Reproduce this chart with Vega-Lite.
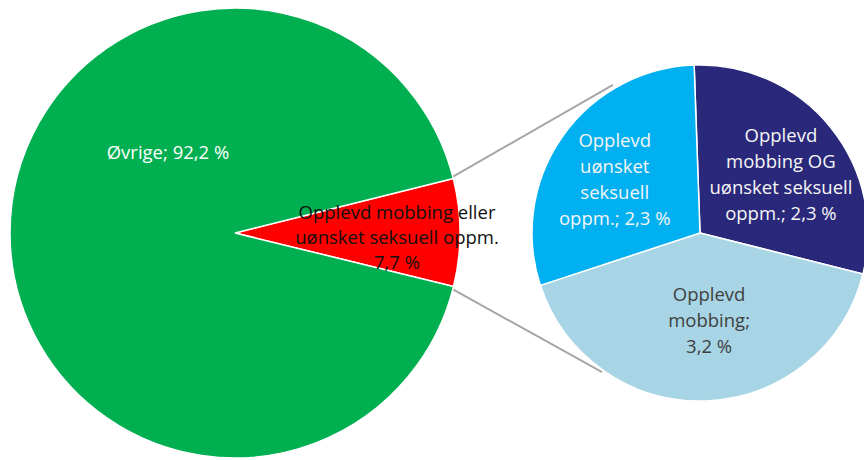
{
  "$schema": "https://vega.github.io/schema/vega-lite/v6.json",
  "width": 864,
  "height": 460,
  "padding": 0,
  "autosize": {"type": "fit", "contains": "padding"},
  "background": "white",
  "config": {"view": {"stroke": null}, "text": {"font": "Open Sans", "fontSize": 18.5}},
  "datasets": {
    "main": [
      {"pie": "main", "cat": "Opplevd mobbing eller uønsket seksuell oppm.", "value": 7.7, "rank": 1, "label": "Opplevd mobbing eller\nuønsket seksuell oppm.\n7,7 %"},
      {"pie": "main", "cat": "Øvrige", "value": 92.2, "rank": 2, "label": "Øvrige; 92,2 %"}
    ],
    "detail": [
      {"pie": "detail", "cat": "Opplevd mobbing OG uønsket seksuell oppm.", "value": 2.3, "rank": 1, "label": "Opplevd\nmobbing OG\nuønsket seksuell\noppm.; 2,3 %"},
      {"pie": "detail", "cat": "Opplevd mobbing", "value": 3.2, "rank": 2, "label": "Opplevd\nmobbing;\n3,2 %"},
      {"pie": "detail", "cat": "Opplevd uønsket seksuell oppm.", "value": 2.3, "rank": 3, "label": "Opplevd\nuønsket\nseksuell\noppm.; 2,3 %"}
    ],
    "connectors": [
      {"x": 455, "y": 178, "x2": 618, "y2": 85},
      {"x": 453, "y": 288, "x2": 607, "y2": 373}
    ]
  },
  "layer": [
    {
      "data": {"name": "connectors"},
      "mark": {"type": "rule", "color": "#A6A6A6", "strokeWidth": 2},
      "encoding": {
        "x": {"field": "x", "type": "quantitative", "scale": {"domain": [0, 864], "nice": false, "zero": false}, "axis": null},
        "x2": {"field": "x2"},
        "y": {"field": "y", "type": "quantitative", "scale": {"domain": [0, 460], "reverse": true, "nice": false, "zero": false}, "axis": null},
        "y2": {"field": "y2"}
      }
    },
    {
      "data": {"name": "main"},
      "mark": {"type": "arc", "outerRadius": 225, "stroke": "white", "strokeWidth": 1.5},
      "encoding": {
        "x": {"field": "pie", "type": "nominal", "scale": {"type": "point", "domain": ["main", "detail"], "range": [235, 700], "padding": 0}, "axis": null},
        "y": {"field": "pie", "type": "nominal", "scale": {"type": "point", "domain": ["main", "detail"], "range": [233, 233], "padding": 0}, "axis": null},
        "theta": {"field": "value", "type": "quantitative", "stack": true, "scale": {"range": [1.32645, 7.60964]}},
        "order": {"field": "rank", "type": "quantitative"},
        "color": {
          "field": "cat", "type": "nominal", "legend": null,
          "scale": {
            "domain": ["Opplevd mobbing eller uønsket seksuell oppm.", "Øvrige", "Opplevd mobbing OG uønsket seksuell oppm.", "Opplevd mobbing", "Opplevd uønsket seksuell oppm."],
            "range": ["#FF0000", "#00B050", "#29287A", "#A8D5E5", "#00B0F0"]
          }
        }
      }
    },
    {
      "data": {"name": "detail"},
      "mark": {"type": "arc", "outerRadius": 168, "stroke": "white", "strokeWidth": 1.5},
      "encoding": {
        "x": {"field": "pie", "type": "nominal", "scale": {"type": "point", "domain": ["main", "detail"], "range": [235, 700], "padding": 0}, "axis": null},
        "y": {"field": "pie", "type": "nominal", "scale": {"type": "point", "domain": ["main", "detail"], "range": [233, 233], "padding": 0}, "axis": null},
        "theta": {"field": "value", "type": "quantitative", "stack": true, "scale": {"range": [-0.03491, 6.24828]}},
        "order": {"field": "rank", "type": "quantitative"},
        "color": {"field": "cat", "type": "nominal", "legend": null}
      }
    },
    {
      "data": {"name": "main"},
      "mark": {"type": "text", "radius": 162, "dy": -20, "lineBreak": "\n", "lineHeight": 25, "align": "center", "baseline": "middle"},
      "encoding": {
        "x": {"field": "pie", "type": "nominal", "scale": {"type": "point", "domain": ["main", "detail"], "range": [235, 700], "padding": 0}, "axis": null},
        "y": {"field": "pie", "type": "nominal", "scale": {"type": "point", "domain": ["main", "detail"], "range": [233, 233], "padding": 0}, "axis": null},
        "theta": {"field": "value", "type": "quantitative", "stack": true, "scale": {"range": [1.32645, 7.60964]}},
        "order": {"field": "rank", "type": "quantitative"},
        "detail": {"field": "cat", "type": "nominal"},
        "text": {"condition": {"test": "datum.rank === 1", "field": "label"}, "value": ""},
        "color": {"value": "#111111"}
      }
    },
    {
      "data": {"name": "main"},
      "mark": {"type": "text", "radius": 67, "dy": -80, "lineBreak": "\n", "lineHeight": 25, "align": "center", "baseline": "middle"},
      "encoding": {
        "x": {"field": "pie", "type": "nominal", "scale": {"type": "point", "domain": ["main", "detail"], "range": [235, 700], "padding": 0}, "axis": null},
        "y": {"field": "pie", "type": "nominal", "scale": {"type": "point", "domain": ["main", "detail"], "range": [233, 233], "padding": 0}, "axis": null},
        "theta": {"field": "value", "type": "quantitative", "stack": true, "scale": {"range": [1.32645, 7.60964]}},
        "order": {"field": "rank", "type": "quantitative"},
        "detail": {"field": "cat", "type": "nominal"},
        "text": {"condition": {"test": "datum.rank === 2", "field": "label"}, "value": ""},
        "color": {"value": "#FFFFFF"}
      }
    },
    {
      "data": {"name": "detail"},
      "mark": {"type": "text", "radius": 104, "dy": -32, "lineBreak": "\n", "lineHeight": 26, "align": "center", "baseline": "middle"},
      "encoding": {
        "x": {"field": "pie", "type": "nominal", "scale": {"type": "point", "domain": ["main", "detail"], "range": [235, 700], "padding": 0}, "axis": null},
        "y": {"field": "pie", "type": "nominal", "scale": {"type": "point", "domain": ["main", "detail"], "range": [233, 233], "padding": 0}, "axis": null},
        "theta": {"field": "value", "type": "quantitative", "stack": true, "scale": {"range": [-0.03491, 6.24828]}},
        "order": {"field": "rank", "type": "quantitative"},
        "detail": {"field": "cat", "type": "nominal"},
        "text": {"condition": {"test": "datum.rank !== 2", "field": "label"}, "value": ""},
        "color": {"value": "#F5F5F5"}
      }
    },
    {
      "data": {"name": "detail"},
      "mark": {"type": "text", "radius": 89, "dx": 6, "dy": -27, "lineBreak": "\n", "lineHeight": 26, "align": "center", "baseline": "middle"},
      "encoding": {
        "x": {"field": "pie", "type": "nominal", "scale": {"type": "point", "domain": ["main", "detail"], "range": [235, 700], "padding": 0}, "axis": null},
        "y": {"field": "pie", "type": "nominal", "scale": {"type": "point", "domain": ["main", "detail"], "range": [233, 233], "padding": 0}, "axis": null},
        "theta": {"field": "value", "type": "quantitative", "stack": true, "scale": {"range": [-0.03491, 6.24828]}},
        "order": {"field": "rank", "type": "quantitative"},
        "detail": {"field": "cat", "type": "nominal"},
        "text": {"condition": {"test": "datum.rank === 2", "field": "label"}, "value": ""},
        "color": {"value": "#404040"}
      }
    }
  ],
  "resolve": {"scale": {"theta": "independent", "x": "independent", "y": "independent"}}
}
